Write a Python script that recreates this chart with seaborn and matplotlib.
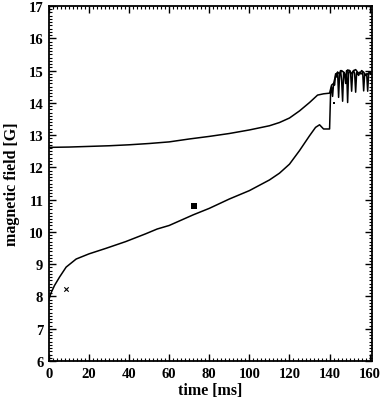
import numpy as np
import pandas as pd
import matplotlib
matplotlib.use("Agg")
import matplotlib.pyplot as plt
import seaborn as sns
from matplotlib.ticker import MultipleLocator

# ---- data ----
upper_t = [0, 10, 20, 30, 40, 50, 60, 70, 80, 90, 100, 110, 115, 120, 125, 130,
           134, 137, 140, 141, 142, 143, 144, 145, 146, 147, 148, 149, 150, 151,
           152, 153, 154, 155, 156, 157, 158, 159, 160, 161]
upper_v = [12.62, 12.63, 12.65, 12.67, 12.70, 12.74, 12.79, 12.88, 12.96, 13.05,
           13.16, 13.29, 13.39, 13.53, 13.75, 14.01, 14.24, 14.28, 14.30, 14.55,
           14.60, 14.85, 14.95, 14.90, 15.00, 14.95, 14.80, 15.02, 15.00, 14.90,
           15.00, 15.03, 14.95, 14.90, 15.00, 14.95, 14.85, 14.90, 14.95, 14.92]

lower_t = [0, 1, 2.8, 5.3, 8.6, 13.6, 20, 28.4, 38.3, 48.2, 54, 60, 72, 80, 90,
           100, 110, 115, 120, 125, 130, 133, 135, 137, 140, 140.5,
           141, 141.5, 142, 142.5, 143, 143.5, 144, 144.5, 145, 145.5, 146,
           146.5, 147, 147.5, 148, 148.5, 149, 149.5, 150, 150.5, 151, 151.5,
           152, 152.5, 153, 153.5, 154, 154.5, 155, 155.5, 156, 156.5, 157,
           157.5, 158, 158.5, 159, 159.5, 160, 160.5, 161]
lower_v = [7.90, 8.10, 8.34, 8.60, 8.91, 9.16, 9.32, 9.49, 9.70, 9.94, 10.09,
           10.20, 10.53, 10.73, 11.02, 11.28, 11.61, 11.82, 12.10, 12.52, 12.98,
           13.24, 13.32, 13.19, 13.19, 14.30,
           14.50, 14.20, 14.60, 14.55, 14.90, 14.80, 14.95, 14.17, 14.90, 15.00,
           14.70, 14.05, 14.95, 14.90, 14.60, 15.00, 14.01, 14.95, 15.00, 14.90,
           14.36, 14.95, 15.00, 14.90, 14.33, 14.95, 14.90, 14.85, 14.95, 14.90,
           14.90, 14.95, 14.37, 14.90, 14.85, 14.90, 14.36, 14.90, 14.95, 14.90,
           14.90]

square_t = [72.5]
square_v = [10.79]
cross_t = [8.3]
cross_v = [8.24]
dot_t = [142.0]
dot_v = [14.0]

x_ticks = [0, 20, 40, 60, 80, 100, 120, 140, 160]
y_ticks = [6, 7, 8, 9, 10, 11, 12, 13, 14, 15, 16, 17]

# ---- plotting ----
sns.set_style("white")
plt.rcParams["font.family"] = ["Liberation Serif", "DejaVu Serif"]
plt.rcParams["text.color"] = "black"
plt.rcParams["axes.labelcolor"] = "black"

fig = plt.figure(figsize=(3.82, 4.02), dpi=100)
ax = fig.add_axes([0.128, 0.0995, 0.845, 0.883])

df_u = pd.DataFrame({"t": upper_t, "v": upper_v})
df_l = pd.DataFrame({"t": lower_t, "v": lower_v})
sns.lineplot(data=df_u, x="t", y="v", ax=ax, color="black", lw=1.1,
             estimator=None, sort=False)
sns.lineplot(data=df_l, x="t", y="v", ax=ax, color="black", lw=1.1,
             estimator=None, sort=False)
sns.scatterplot(x=square_t, y=square_v, ax=ax, marker="s", s=16,
                color="black", edgecolor="black", linewidth=0)
sns.scatterplot(x=cross_t, y=cross_v, ax=ax, marker="x", s=10,
                color="black", linewidth=0.8)
sns.scatterplot(x=dot_t, y=dot_v, ax=ax, marker="s", s=3,
                color="black", edgecolor="black", linewidth=0)

ax.set_xlim(0, 161)
ax.set_ylim(6, 17)
ax.set_xticks(x_ticks)
ax.set_yticks(y_ticks)
ax.set_xticklabels([str(v) for v in x_ticks])
ax.set_yticklabels([str(v) for v in y_ticks])
ax.xaxis.set_minor_locator(MultipleLocator(2))
ax.yaxis.set_minor_locator(MultipleLocator(0.1))
ax.tick_params(which="both", direction="in", top=True, right=True,
               bottom=True, left=True, colors="black")
ax.tick_params(which="major", length=5, width=1.0, labelsize=10.5, pad=4)
ax.tick_params(which="minor", length=2.5, width=0.8)
for lab in ax.get_xticklabels() + ax.get_yticklabels():
    lab.set_fontweight("bold")
for sp in ax.spines.values():
    sp.set_color("black")
    sp.set_linewidth(1.3)
    sp.set_visible(True)

ax.set_xlabel("time [ms]", fontsize=11.5, fontweight="bold", labelpad=2)
ax.set_ylabel("magnetic field [G]", fontsize=11.5, fontweight="bold", labelpad=6)

fig.savefig("out.png", dpi=100)
